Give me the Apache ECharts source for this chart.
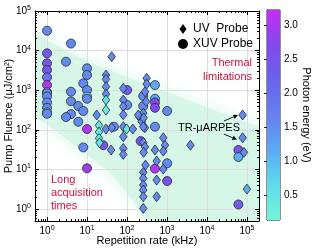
<!DOCTYPE html>
<html><head><meta charset="utf-8">
<script src="https://cdn.jsdelivr.net/npm/echarts@6/dist/echarts.min.js"></script>
<style>html,body{margin:0;padding:0;background:#fff}#c{width:318px;height:250px}</style>
</head><body><div id="c"></div>
<script>
// ---------- data ----------
// XUV probe (circles): repetition rate (kHz), pump fluence (µJ/cm²), photon energy (eV)
const xuvRate    = [1,1,1,1,1,1,1,1,1,1,1,1,1, 3.97,2.98,3.97,3.97,3.97,2.98,6.06,6.06,8.06,8.06, 10,10,10,10,10,10,8.06,10, 25.5,101,101,47, 255,255,500,500,500,500,1010,500,220,500,1010,1010, 61000,61000,61000];
const xuvFluence = [31800,8550,4780,3240,2120,1350,900,840,700,490,360,275,255, 15100,5250,920,525,250,210,400,160,300,1490, 3570,2420,1010,690,610,105,36,10.7, 41,1010,423,120, 714,399,1350,610,490,360,300,120,52,10.5,14.3,5.1, 31,20.6,1.31];
const xuvEnergy  = [1.55,2.35,2.5,2.5,1.9,3.1,0.4,1.55,1.55,1.55,1.55,0.4,1.55, 1.55,1.55,1.55,1.55,1.55,1.55,1.55,1.55,1.55,1.55, 1.55,1.55,1.55,0.45,1.55,3.1,1.55,2.9, 2.5,2.3,1.55,1.55, 1.55,1.55,1.15,1.15,2.7,2.7,1.55,1.55,2.5,3.1,1.55,2.5, 2.5,1.15,2.4];
// UV probe (diamonds)
const uvRate    = [41.4,29.8,29.8,29.8,29.8,29.8,29.8, 80.6,80.6,80.6,80.6,80.6,80.6,80.6,80.6, 40,17.5,29.8,41.4, 19.9,19.9,19.9,20.5,98,140, 310,310,281,300,255,211,233,281,255,191,260, 255,281,260,500,806,889,806,3860, 552,290,255,806,255,552,255,255,255,552,255, 78000,78000,84000,99800];
const uvFluence = [7010,2420,1885,1225,800,566,316, 1117,566,390,240,120,67,34,24, 31,237,105,113, 130,88,61,47,105,105, 2000,1435,916,520,265,205,160,113,120,237,200, 48,37,27,31,63,41,29,41, 16.3,12.9,8.45,10.2,5.96,5.4,4.04,3.02,2.05,2.05,1.04, 237,63,27,3.2];
const uvEnergy  = [1.55,1.55,1.55,1.55,1.55,0.55,0.35, 1.55,1.55,1.55,1.55,1.55,1.55,1.55,1.55, 1.55,1.55,1.55,1.55, 0.45,0.4,0.45,0.5,0.4,1.55, 1.55,1.55,1.55,1.55,1.55,1.55,1.55,1.55,1.55,1.55,1.55, 1.55,1.55,1.55,1.55,1.55,1.55,1.55,1.55, 1.55,1.55,1.55,1.55,1.55,1.55,1.55,1.55,1.55,1.55,1.55, 1.55,1.55,1.55,1.15];

const decadeTicks = [1,10,100,1000,10000,100000];
const cbTicks = [0.5,1.0,1.5,2.0,2.5,3.0];
const cbRange = [0.13, 3.22];
const cmap = ['#72f6d8','#5cdcec','#5aaaf4','#6680f0','#6764ec','#8548ee','#c52ef6'];
// shaded "practical" band (data coordinates)
const bandRate    = [0.21, 11.9, 375, 500000, 500000, 667, 42, 6.7, 0.21];
const bandFluence = [39400, 4860, 1277, 83, 0.22, 0.22, 7.65, 32.7, 423];
// annotation arrows (data coordinates)
const arrowFrom = [[26500,167],[26500,78]];
const arrowTo   = [[59400,237],[56100,57]];

const xRange = [0.5, 2e5], yRange = [0.5, 1e5];
const minorX = [], minorY = [];
for (let k=-1;k<=5;k++) for (let m=2;m<=9;m++){ const v=m*Math.pow(10,k); if(v>=xRange[0]&&v<=xRange[1]) minorX.push(v); if(v>=yRange[0]&&v<=yRange[1]) minorY.push(v); }

// ---------- chart ----------
const F = '"Liberation Sans", Arial, Helvetica, sans-serif';
const chart = echarts.init(document.getElementById('c'), null, {renderer:'canvas'});
const supLabel = {
  customValues: decadeTicks, margin: 4, color:'#000', fontFamily: F,
  formatter: v => '{b|10}{e|' + Math.round(Math.log10(v)) + '}',
  rich: { b:{fontSize:10, fontFamily:F, color:'#000', lineHeight:13}, e:{fontSize:7, fontFamily:F, color:'#000', lineHeight:7, verticalAlign:'top'} }
};
function logAxis(extra){
  return Object.assign({type:'log', logBase:10, gridIndex:0, z:2, axisLine:{show:true, onZero:false, lineStyle:{color:'#000', width:1}},
    axisTick:{show:true, inside:true, length:4, customValues:decadeTicks, lineStyle:{color:'#000', width:1}},
    axisLabel:{show:false}, splitLine:{show:false}, minorTick:{show:false}}, extra);
}
function minorAxis(extra, vals){
  return Object.assign({type:'log', logBase:10, gridIndex:0, z:2, axisLine:{show:false},
    axisTick:{show:true, inside:true, length:2, customValues:vals, lineStyle:{color:'#000', width:1}},
    axisLabel:{show:false}, splitLine:{show:false}}, extra);
}
const nameStyle = {fontSize:11, color:'#000', fontFamily:F};
const toData = (a,b,c)=>a.map((v,i)=>[v,b[i],c[i]]);

const option = {
  animation:false,
  backgroundColor:'#fff',
  grid:[
    {left:35, top:11, width:224, height:210, outerBoundsMode:'none', containLabel:false},
    {left:267, top:10, width:13, height:210, show:true, borderColor:'#222', borderWidth:1, outerBoundsMode:'none', containLabel:false}
  ],
  xAxis:[
    logAxis({min:xRange[0], max:xRange[1], position:'bottom', axisLabel:supLabel,
      splitLine:{show:true, lineStyle:{color:'#dedede', width:1}},
      name:'Repetition rate (kHz)', nameLocation:'middle', nameGap:14, nameMoveOverlap:false, nameTextStyle:nameStyle}),
    logAxis({min:xRange[0], max:xRange[1], position:'top'}),
    minorAxis({min:xRange[0], max:xRange[1], position:'bottom'}, minorX),
    minorAxis({min:xRange[0], max:xRange[1], position:'top'}, minorX),
    {type:'value', gridIndex:1, min:0, max:1, show:false}
  ],
  yAxis:[
    logAxis({min:yRange[0], max:yRange[1], position:'left', axisLabel:supLabel,
      splitLine:{show:true, lineStyle:{color:'#dedede', width:1}},
      name:'Pump Fluence (μJ/cm²)', nameLocation:'middle', nameGap:21, nameMoveOverlap:false, nameTextStyle:nameStyle}),
    logAxis({min:yRange[0], max:yRange[1], position:'right'}),
    minorAxis({min:yRange[0], max:yRange[1], position:'left'}, minorY),
    minorAxis({min:yRange[0], max:yRange[1], position:'right'}, minorY),
    {type:'value', gridIndex:1, min:cbRange[0], max:cbRange[1], position:'right',
      axisLine:{show:true, lineStyle:{color:'#222'}},
      axisTick:{show:true, inside:true, length:3, customValues:cbTicks, lineStyle:{color:'#222'}},
      axisLabel:{customValues:cbTicks, formatter:v=>v.toFixed(1), fontSize:10, fontFamily:F, color:'#000', margin:4},
      splitLine:{show:false},
      name:'Photon energy (eV)', nameLocation:'middle', nameRotate:-90, nameGap:21, nameMoveOverlap:false, nameTextStyle:nameStyle}
  ],
  visualMap:{type:'continuous', show:false, min:cbRange[0], max:cbRange[1], dimension:2, seriesIndex:[1,2], inRange:{color:cmap}},
  legend:{
    data:[
      {name:'UV  Probe', icon:'path://M0,-10L7,0L0,10L-7,0Z', itemStyle:{color:'#000', borderWidth:0}},
      {name:'XUV Probe', icon:'circle', itemStyle:{color:'#000', borderWidth:0}}
    ],
    orient:'vertical', left:173, top:18, itemWidth:10, itemHeight:10, itemGap:3, selectedMode:false,
    textStyle:{fontSize:12, fontFamily:F, color:'#000'}
  },
  series:[
    {type:'custom', name:'band', xAxisIndex:0, yAxisIndex:0, clip:true, z:1, silent:true,
      data:[[1,1]],
      renderItem:(params, api)=>{
        const pts = bandRate.map((x,i)=>api.coord([x, bandFluence[i]]));
        return {type:'polygon', shape:{points:pts}, style:{fill:'#d6f7e8', shadowBlur:16, shadowColor:'#d6f7e8'}};
      }},
    {type:'scatter', name:'XUV Probe', xAxisIndex:0, yAxisIndex:0, symbol:'circle', symbolSize:9, z:3,
      itemStyle:{borderColor:'#2a2a2a', borderWidth:0.8, opacity:1},
      data: toData(xuvRate, xuvFluence, xuvEnergy)},
    {type:'scatter', name:'UV  Probe', xAxisIndex:0, yAxisIndex:0, symbol:'diamond', symbolSize:[7.5,10], z:4,
      itemStyle:{borderColor:'#2a2a2a', borderWidth:0.8, opacity:1},
      data: toData(uvRate, uvFluence, uvEnergy)},
    {type:'custom', name:'colorbar', xAxisIndex:4, yAxisIndex:4, silent:true,
      data:[[0, cbRange[0]]],
      renderItem:(params, api)=>{
        const p0 = api.coord([0, cbRange[1]]), p1 = api.coord([1, cbRange[0]]);
        return {type:'rect', shape:{x:p0[0], y:p0[1], width:p1[0]-p0[0], height:p1[1]-p0[1]},
          style:{fill:{type:'linear', x:0, y:1, x2:0, y2:0, colorStops:cmap.map((c,i)=>({offset:i/(cmap.length-1), color:c}))}}};
      }}
  ]
};
chart.setOption(option);

function arrow(p0, p1){
  const dx=p1[0]-p0[0], dy=p1[1]-p0[1], L=Math.hypot(dx,dy), ux=dx/L, uy=dy/L;
  const hl=4.5, hw=2.3, bx=p1[0]-ux*hl, by=p1[1]-uy*hl;
  return [
    {type:'line', shape:{x1:p0[0], y1:p0[1], x2:bx, y2:by}, style:{stroke:'#000', lineWidth:0.9}, z:10},
    {type:'polygon', shape:{points:[[p1[0],p1[1]],[bx-uy*hw, by+ux*hw],[bx+uy*hw, by-ux*hw]]}, style:{fill:'#000'}, z:10}
  ];
}
const g = [
  {type:'text', x:252, y:70, z:10, style:{text:'Thermal\nlimitations', align:'right', verticalAlign:'middle', lineHeight:14, fill:'#d0103a', font:'11px '+F}},
  {type:'text', x:51, y:193, z:10, style:{text:'Long\nacquisition\ntimes', align:'left', verticalAlign:'middle', lineHeight:13, fill:'#d0103a', font:'11px '+F}},
  {type:'text', x:209, y:128, z:10, style:{text:'TR-μARPES', align:'center', verticalAlign:'middle', fill:'#000', font:'11px '+F}}
];
arrowFrom.forEach((a,i)=>{
  const p0 = chart.convertToPixel({gridIndex:0}, a), p1 = chart.convertToPixel({gridIndex:0}, arrowTo[i]);
  g.push(...arrow(p0,p1));
});
chart.setOption({graphic:g});
</script></body></html>
